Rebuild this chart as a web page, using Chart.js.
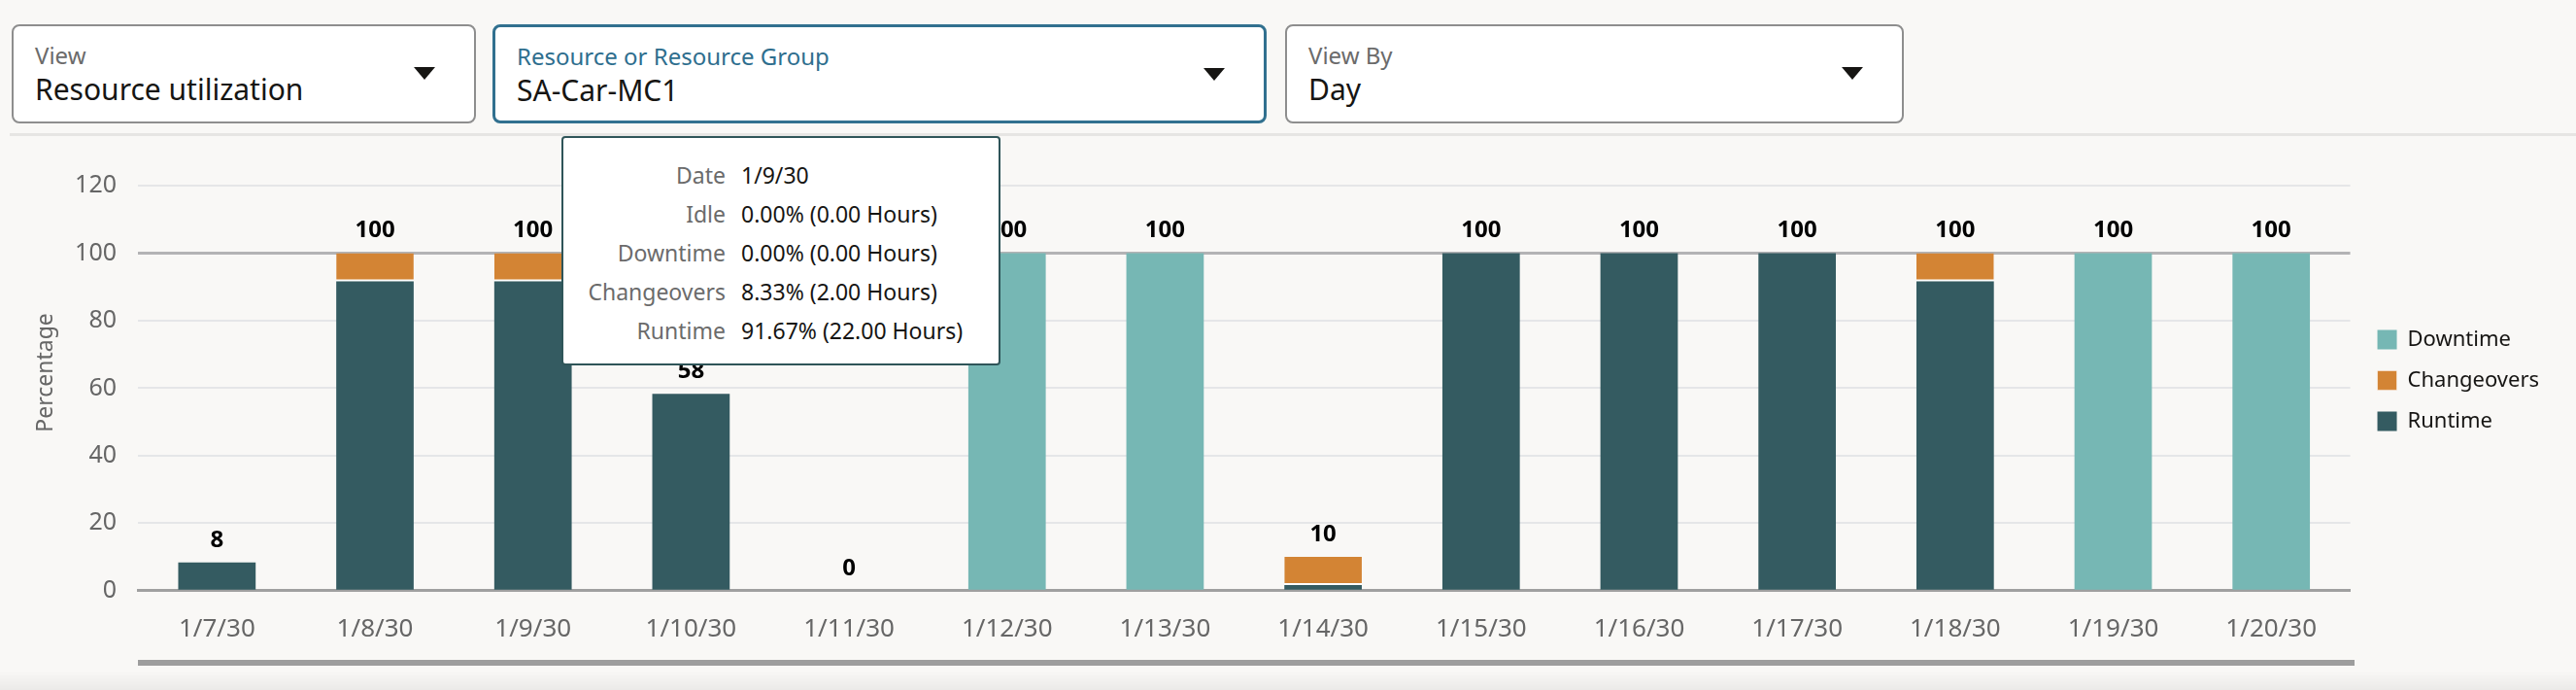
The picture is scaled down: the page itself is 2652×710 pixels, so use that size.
<!DOCTYPE html>
<html>
<head>
<meta charset="utf-8">
<script src="https://cdn.jsdelivr.net/npm/chart.js@4.4.1/dist/chart.umd.min.js"></script>
<style>
  body { margin: 0; width: 2652px; height: 710px; overflow: hidden; background: #f9f8f6; font-family: "Noto Sans", sans-serif; position: relative; }
  .dd { position: absolute; top: 25px; height: 102px; box-sizing: border-box; border: 2px solid #8e8e8e; border-radius: 8px; background: #fff; }
  .dd.sel { border: 3px solid #31708f; }
  .dd .lbl { position: absolute; left: 22px; top: 14px; font-size: 24px; line-height: 32px; color: #6b6b6b; }
  .dd.sel .lbl { color: #2e6e8e; }
  .dd .val { position: absolute; left: 22px; top: 47px; font-size: 30px; line-height: 36px; color: #161513; }
  .dd .arrow { position: absolute; right: 40px; top: 42px; width: 0; height: 0; border-left: 11px solid transparent; border-right: 11px solid transparent; border-top: 13px solid #161513; }
  #sep { position: absolute; left: 10px; right: 0; top: 137px; height: 3px; background: #e6e5e3; }
  #chartBox { position: absolute; left: 0; top: 150px; width: 2652px; height: 548px; }
  #scroll { position: absolute; left: 142px; width: 2282px; top: 679px; height: 6px; background: #9d9d9d; }
  #shade { position: absolute; left: 0; right: 0; top: 690px; height: 20px; background: linear-gradient(rgba(0,0,0,0), rgba(0,0,0,0.055)); }
  #tip { position: absolute; left: 578px; top: 140px; width: 452px; height: 236px; box-sizing: border-box; background: #fff; border: 2px solid #2f5559; border-radius: 4px; padding-top: 18px; font-size: 23px; z-index: 5; }
  #tip .row { height: 40px; line-height: 40px; position: relative; }
  #tip .k { position: absolute; right: 281px; color: #6b6b6b; text-align: right; white-space: nowrap; }
  #tip .v { position: absolute; left: 183px; color: #161513; white-space: nowrap; }
</style>
</head>
<body>

<div class="dd" style="left:12px; width:478px;">
  <div class="lbl">View</div>
  <div class="val">Resource utilization</div>
  <div class="arrow"></div>
</div>
<div class="dd sel" style="left:507px; width:797px;">
  <div class="lbl">Resource or Resource Group</div>
  <div class="val">SA-Car-MC1</div>
  <div class="arrow"></div>
</div>
<div class="dd" style="left:1323px; width:637px;">
  <div class="lbl">View By</div>
  <div class="val">Day</div>
  <div class="arrow"></div>
</div>
<div id="sep"></div>

<div id="chartBox"><canvas id="chart" width="2652" height="548"></canvas></div>
<div id="scroll"></div>
<div id="shade"></div>
<div id="tip"></div>

<script>
// data (percent of the day)
var categories = ['1/7/30', '1/8/30', '1/9/30', '1/10/30', '1/11/30', '1/12/30', '1/13/30',
                  '1/14/30', '1/15/30', '1/16/30', '1/17/30', '1/18/30', '1/19/30', '1/20/30'];
var runtime     = [8.33, 91.67, 91.67, 58.33, 0, 0, 0, 1.67, 100, 100, 100, 91.67, 0, 0];
var changeovers = [0, 8.33, 8.33, 0, 0, 0, 0, 8.33, 0, 0, 0, 8.33, 0, 0];
var downtime    = [0, 0, 0, 0, 0, 100, 100, 0, 0, 0, 0, 0, 100, 100];
var idle        = [0, 0, 0, 0, 0, 0, 0, 0, 0, 0, 0, 0, 0, 0];
var yTicks      = [0, 20, 40, 60, 80, 100, 120];

var hoveredDay = '1/9/30';

const FONT = '"Noto Sans", sans-serif';
const COLORS = { runtime: '#345b61', changeovers: '#d38434', downtime: '#76b7b4' };

// total value above each stack, plus the y title (sits a bit above centre)
const extras = {
  id: 'extras',
  afterLayout(chart) {
    // legend sits slightly above the plot's middle
    chart.legend.top -= 8;
    chart.legend.bottom -= 8;
  },
  afterDatasetsDraw(chart) {
    let ctx = chart.ctx;
    let y = chart.scales.y;
    let meta = chart.getDatasetMeta(0);
    ctx.save();
    ctx.font = 'bold 24px ' + FONT;
    ctx.fillStyle = '#000';
    ctx.textAlign = 'center';
    ctx.textBaseline = 'middle';
    categories.forEach((c, i) => {
      let total = runtime[i] + changeovers[i] + downtime[i];
      ctx.fillText(Math.round(total), meta.data[i].x, y.getPixelForValue(total) - 23);
    });

    ctx.font = '23px ' + FONT;
    ctx.fillStyle = '#666';
    ctx.translate(47, (y.top + y.bottom) / 2 - 16);
    ctx.rotate(-Math.PI / 2);
    ctx.fillText('Percentage', 0, 0);
    ctx.restore();
  }
};

function setup() {
  let ctx = document.getElementById('chart').getContext('2d');
  new Chart(ctx, {
    type: 'bar',
    data: {
      labels: categories,
      datasets: [
        { label: 'Runtime', data: runtime, backgroundColor: COLORS.runtime, borderWidth: 0 },
        { label: 'Changeovers', data: changeovers, backgroundColor: COLORS.changeovers,
          borderColor: '#ffffff', borderWidth: { top: 0, left: 0, right: 0, bottom: 2 }, borderSkipped: false },
        { label: 'Downtime', data: downtime, backgroundColor: COLORS.downtime, borderWidth: 0 }
      ]
    },
    options: {
      responsive: false,
      animation: false,
      layout: { padding: { top: 41, left: 30, right: 28, bottom: 11 } },
      datasets: { bar: { categoryPercentage: 1, barPercentage: 0.49 } },
      scales: {
        x: {
          stacked: true,
          grid: { display: false, drawTicks: false },
          border: { display: true, color: '#a0a0a0', width: 3 },
          ticks: { padding: 24, color: '#666', font: { family: FONT, size: 26 } }
        },
        y: {
          stacked: true,
          min: 0,
          max: 120,
          afterBuildTicks: s => { s.ticks = yTicks.map(v => ({ value: v })); },
          afterFit: s => { s.width = 142 - 30; },
          border: { display: false },
          grid: {
            drawTicks: false,
            color: c => c.tick.value === 100 ? '#b3b3b5' : (c.tick.value === 0 ? '#a0a0a0' : '#e5e6e8'),
            lineWidth: c => c.tick.value === 100 ? 3 : 2
          },
          ticks: { padding: 22, color: '#666', font: { family: FONT, size: 25 } }
        },
        // empty spacer between plot and legend
        pad: {
          position: 'right',
          display: true,
          grid: { display: false },
          ticks: { display: false },
          border: { display: false },
          afterFit: s => { s.width = 8; }
        }
      },
      plugins: {
        tooltip: { enabled: false },
        legend: {
          position: 'right',
          fullSize: false,
          reverse: true,
          labels: {
            boxWidth: 20, boxHeight: 20, padding: 20, color: '#161513',
            font: { family: FONT, size: 22 }
          }
        }
      }
    },
    plugins: [extras]
  });
  fillTip();
}

// hover card for one day, built from the same arrays
function fillTip() {
  let i = categories.indexOf(hoveredDay);
  let fmt = p => p.toFixed(2) + '% (' + (p * 24 / 100).toFixed(2) + ' Hours)';
  let rows = [
    ['Date', hoveredDay],
    ['Idle', fmt(idle[i])],
    ['Downtime', fmt(downtime[i])],
    ['Changeovers', fmt(changeovers[i])],
    ['Runtime', fmt(runtime[i])]
  ];
  let tip = document.getElementById('tip');
  tip.innerHTML = rows.map(r =>
    '<div class="row"><span class="k">' + r[0] + '</span><span class="v">' + r[1] + '</span></div>').join('');
}

setup();
</script>
</body>
</html>
